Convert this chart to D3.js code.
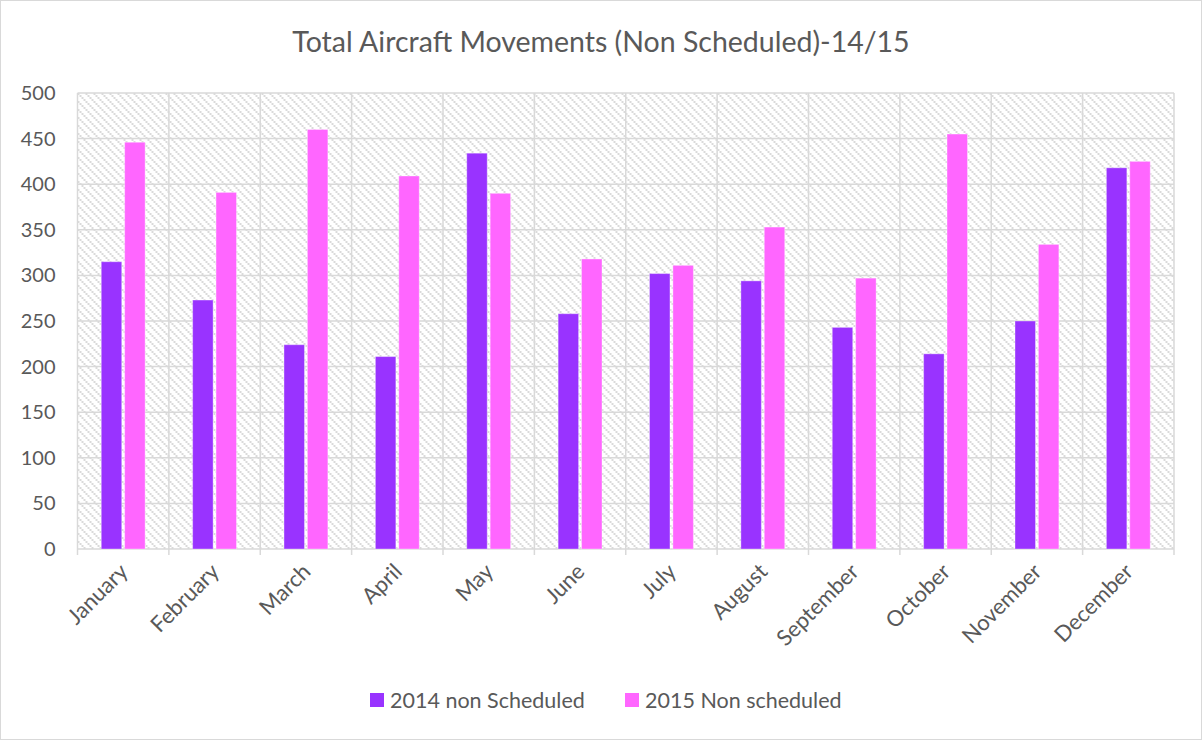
<!DOCTYPE html>
<html>
<head>
<meta charset="utf-8">
<script src="https://cdn.jsdelivr.net/npm/d3@7"></script>
<style>
  html, body { margin: 0; padding: 0; background: #fff; }
  svg { display: block; }
  text { font-family: Lato, "Open Sans", sans-serif; fill: #595959; }
</style>
</head>
<body>
<script>
const months = ["January","February","March","April","May","June","July","August","September","October","November","December"];
const series2014 = [315, 273, 224, 211, 434, 258, 302, 294, 243, 214, 250, 418];
const series2015 = [446, 391, 460, 409, 390, 318, 311, 353, 297, 455, 334, 425];
const seriesNames = ["2014 non Scheduled", "2015 Non scheduled"];
const seriesColors = ["#9933ff", "#ff66ff"];
const yTicks = [0, 50, 100, 150, 200, 250, 300, 350, 400, 450, 500];
const title = "Total Aircraft Movements (Non Scheduled)-14/15";

const W = 1202, H = 740;
const m = { left: 77.5, right: 28, top: 93, bottom: 191 };
const iw = W - m.left - m.right, ih = H - m.top - m.bottom;

const svg = d3.select("body").append("svg").attr("width", W).attr("height", H);

// outer border
svg.append("rect").attr("x", 0.5).attr("y", 0.5).attr("width", W - 1).attr("height", H - 1)
  .attr("fill", "#fff").attr("stroke", "#d9d9d9");

// hatch pattern
const defs = svg.append("defs");
const pat = defs.append("pattern").attr("id", "hatch").attr("patternUnits", "userSpaceOnUse")
  .attr("width", 8).attr("height", 8);
pat.append("rect").attr("width", 8).attr("height", 8).attr("fill", "#fff");
[0, 2, 4, 6].forEach(k => pat.append("rect").attr("x", k).attr("y", k).attr("width", 2).attr("height", 2).attr("fill", "#dadada"));

const g = svg.append("g").attr("transform", `translate(${m.left},${m.top})`);

const x = d3.scaleBand().domain(months).range([0, iw]).padding(0);
const y = d3.scaleLinear().domain([0, 500]).range([ih, 0]);
const inner = d3.scaleBand().domain([0, 1]).range([0, x.bandwidth() * 0.48]).paddingInner(0.125);
const groupOffset = (x.bandwidth() - x.bandwidth() * 0.48) / 2;

g.append("rect").attr("width", iw).attr("height", ih).attr("fill", "url(#hatch)");

// horizontal gridlines
g.append("g").selectAll("line").data(yTicks).join("line")
  .attr("x1", 0).attr("x2", iw).attr("y1", d => y(d)).attr("y2", d => y(d))
  .attr("stroke", "#d9d9d9").attr("stroke-width", 1.5);

// vertical gridlines at category boundaries (with tick marks below axis)
const bounds = months.map(d => x(d)).concat([iw]);
g.append("g").selectAll("line").data(bounds).join("line")
  .attr("x1", d => d).attr("x2", d => d).attr("y1", 0).attr("y2", ih + 6)
  .attr("stroke", "#d9d9d9").attr("stroke-width", 1.5);

// bars
const data = months.map((mo, i) => ({ mo, vals: [series2014[i], series2015[i]] }));
const groups = g.append("g").selectAll("g").data(data).join("g")
  .attr("transform", d => `translate(${x(d.mo) + groupOffset},0)`);
groups.selectAll("rect").data(d => d.vals.map((v, k) => ({ v, k }))).join("rect")
  .attr("x", d => inner(d.k)).attr("width", inner.bandwidth())
  .attr("y", d => y(d.v)).attr("height", d => ih - y(d.v))
  .attr("fill", d => seriesColors[d.k])
  .attr("stroke", "rgba(255,255,255,0.35)").attr("stroke-width", 1);

// y axis labels
const yAxis = d3.axisLeft(y).tickValues(yTicks).tickSize(0).tickPadding(22);
const ya = g.append("g").call(yAxis);
ya.select(".domain").remove();
ya.selectAll("text").style("font-size", "20px").attr("fill", "#595959")
  .style("font-family", "Lato, 'Open Sans', sans-serif");

// x axis labels
const xAxis = d3.axisBottom(x).tickSize(0).tickPadding(0);
const xa = g.append("g").attr("transform", `translate(0,${ih})`).call(xAxis);
xa.select(".domain").remove();
xa.selectAll("text")
  .style("font-size", "22px").attr("fill", "#595959")
  .style("font-family", "Lato, 'Open Sans', sans-serif")
  .attr("text-anchor", "end")
  .attr("dy", null).attr("y", 0)
  .attr("transform", "translate(6,24) rotate(-45)");

// title
svg.append("text").attr("x", W / 2).attr("y", 52).attr("text-anchor", "middle")
  .style("font-size", "28.5px").text(title);

// legend
const legend = svg.append("g");
const legX = [370, 625];
seriesNames.forEach((n, k) => {
  legend.append("rect").attr("x", legX[k]).attr("y", 693).attr("width", 14).attr("height", 14).attr("fill", seriesColors[k]);
  legend.append("text").attr("x", legX[k] + 20).attr("y", 708).style("font-size", "21.5px").text(n);
});
</script>
</body>
</html>
